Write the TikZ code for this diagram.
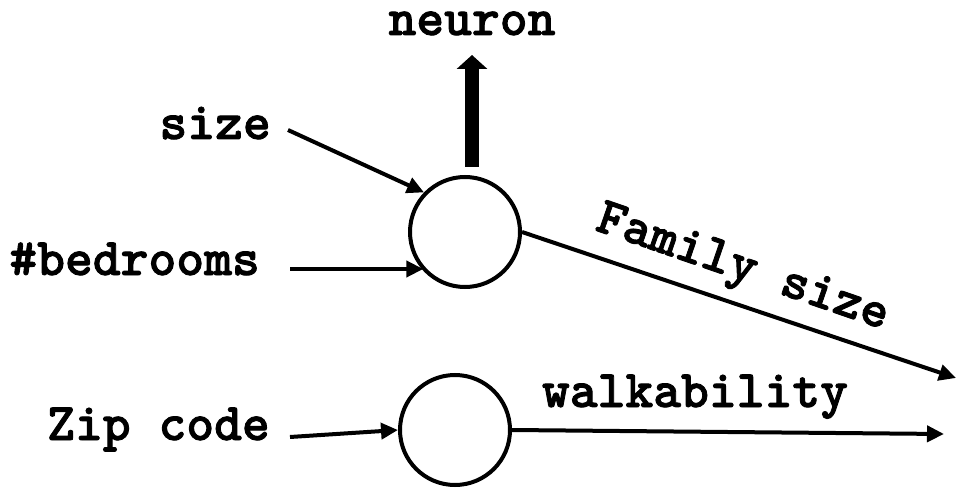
\documentclass[tikz,border=0pt]{standalone}
\usepackage{fontspec}
\newfontfamily\lblfont{lmmonolt10-bold.otf}[FakeBold=1.6]
\usetikzlibrary{arrows.meta}
\begin{document}
\begin{tikzpicture}[x=1pt,y=-1pt,
  lbl/.style={font=\lblfont\fontsize{53}{53}\selectfont, inner sep=0pt},
  unit/.style={circle, draw, line width=4pt, minimum size=110pt, inner sep=0pt},
  conn/.style={line width=4pt, -{Triangle[length=17pt,width=16pt]}},
  bigout/.style={line width=14pt, -{Triangle[length=14pt,width=30pt]}},
]
\useasboundingbox (0,0) rectangle (958,489);

% the two units
\node[unit] (n1) at (465,232) {};
\node[unit] (n2) at (455,430) {};

% input and output labels
\node[lbl, anchor=base east] (size) at (271,139) {size};
\node[lbl, anchor=base east] (bed) at (260,275) {\#bedrooms};
\node[lbl, anchor=base east] (zip) at (270,440) {Zip code};
\node[lbl, anchor=base] (neuron) at (472,35) {neuron};
\node[lbl, anchor=base] (walk) at (695,407) {walkability};
\node[lbl, rotate=-19] (fam) at (742,270) {Family size};

% free ends of the connectors
\coordinate (sizeout) at (288,130);
\coordinate (bedout) at (290,269);
\coordinate (zipout) at (290,437);
\coordinate (nbase) at (472,167);
\coordinate (ntip) at (472,55);
\coordinate (famtip) at (956,378);
\coordinate (walktip) at (944,434);

% connectors
\draw[conn] (sizeout) -- (n1.136);
\draw[conn] (bedout) -- (n1.223 |- bedout);
\draw[conn] (zipout) -- (n2.west);
\draw[bigout] (nbase) -- (ntip);
\draw[conn] (n1.east) -- (famtip);
\draw[conn] (n2.east) -- (walktip);
\end{tikzpicture}
\end{document}
